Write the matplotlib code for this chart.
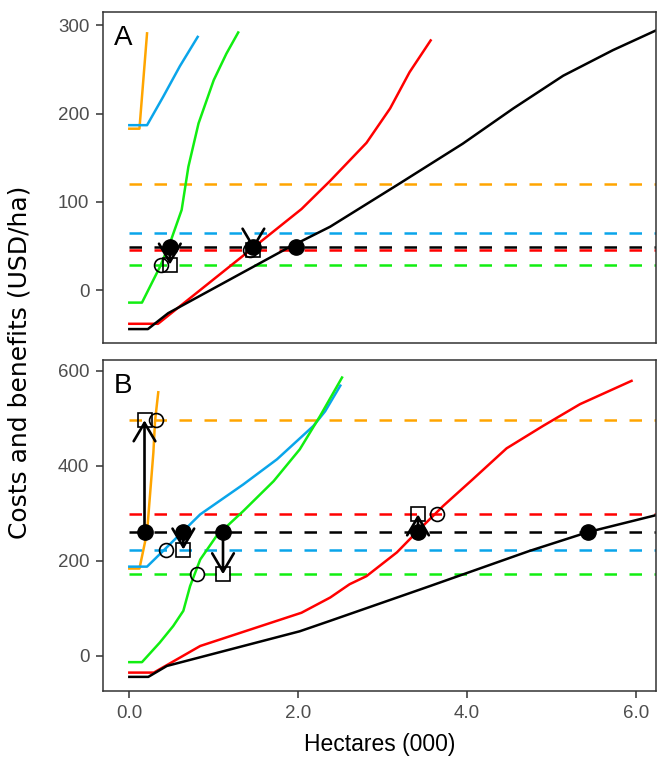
import numpy as np
import matplotlib.pyplot as plt

plt.rcParams['font.family'] = ['Liberation Sans', 'DejaVu Sans']

# colours of the four land classes + total
cols = {'orange': '#FFA500', 'blue': '#0AA5EA', 'green': '#11EE11', 'red': '#FF0000', 'black': '#000000'}

# ---- Panel A: cost curves (x in 000 ha, y in USD/ha)
a_orange_x = [0, 0.12, 0.21]
a_orange_y = [183, 183, 291]
a_blue_x = [0, 0.21, 0.40, 0.60, 0.81]
a_blue_y = [187, 187, 219, 254, 287]
a_green_x = [0, 0.15, 0.36, 0.48, 0.62, 0.70, 0.82, 1.0, 1.15, 1.29]
a_green_y = [-14, -14, 26, 53, 91, 140, 189, 238, 268, 292]
a_red_x = [0, 0.34, 2.04, 2.38, 2.81, 3.09, 3.32, 3.57]
a_red_y = [-38, -38, 92, 124, 167, 206, 247, 283]
a_black_x = [0, 0.22, 0.46, 1.86, 2.38, 3.17, 3.95, 4.55, 5.14, 5.73, 6.3]
a_black_y = [-44, -44, -26, 47, 72, 119, 166, 206, 243, 272, 297]

# benefit levels (dashed)
a_levels = {'orange': 120, 'blue': 65, 'red': 46, 'black': 48.5, 'green': 29}

# points
a_fill_x = [0.48, 1.47, 1.98]
a_fill_y = [48.5, 48.5, 48.5]
a_sq_x = [0.48, 1.47]
a_sq_y = [29, 46]
a_open_x = [0.37, 1.43]
a_open_y = [29, 46]

# ---- Panel B
b_orange_x = [0, 0.12, 0.21, 0.285, 0.305, 0.343]
b_orange_y = [184, 184, 260, 428, 495, 555]
b_blue_x = [0, 0.21, 0.44, 0.84, 1.35, 1.75, 2.18, 2.32, 2.50]
b_blue_y = [188, 188, 228, 298, 361, 414, 484, 515, 569]
b_green_x = [0, 0.15, 0.36, 0.52, 0.64, 0.72, 0.84, 1.035, 1.35, 1.71, 2.02, 2.26, 2.52]
b_green_y = [-13, -13, 28, 63, 95, 147, 203, 253, 305, 368, 435, 505, 586]
b_red_x = [0, 0.29, 0.84, 2.04, 2.38, 2.61, 2.81, 3.17, 3.44, 3.72, 4.07, 4.47, 4.90, 5.34, 5.95]
b_red_y = [-35, -35, 21, 91, 123, 151, 168, 218, 267, 316, 372, 437, 484, 530, 579]
b_black_x = [0, 0.225, 0.445, 2.02, 2.38, 3.56, 4.74, 5.44, 6.3]
b_black_y = [-44, -44, -21, 52, 74, 147, 221, 261, 299]

b_levels = {'orange': 496, 'red': 298, 'black': 261, 'blue': 224, 'green': 172}

b_fill_x = [0.18, 0.64, 1.11, 3.42, 5.44]
b_fill_y = [261, 261, 261, 261, 261]
b_sq_x = [0.18, 0.64, 1.11, 3.42]
b_sq_y = [496, 224, 172, 298]
b_open_x = [0.32, 0.43, 0.80, 3.64]
b_open_y = [496, 224, 172, 298]

fig = plt.figure(figsize=(6.57, 7.61), dpi=100)
axA = fig.add_axes([0.157, 0.549, 0.8415, 0.435])
axB = fig.add_axes([0.157, 0.092, 0.8415, 0.435])


def draw(ax, curves, levels, fx, fy, sx, sy, ox, oy):
    for c, y in levels.items():
        ax.hlines(y, 0, 7, colors=cols[c], lw=1.8, linestyles=(0, (5, 5)))
    for c, (x, y) in curves.items():
        ax.plot(x, y, color=cols[c], lw=1.8)
    ax.plot(ox, oy, 'o', ms=10, mfc='none', mec='black', mew=1.2, ls='none')
    ax.plot(sx, sy, 's', ms=9.5, mfc='none', mec='black', mew=1.2, ls='none')
    ax.plot(fx, fy, 'o', ms=11, color='black', ls='none')
    for x0, y0, y1 in zip(sx, fy, sy):
        ax.annotate('', xy=(x0, y1), xytext=(x0, y0),
                    arrowprops=dict(arrowstyle='->,head_length=1.1,head_width=0.65',
                                    lw=1.9, color='black', shrinkA=0, shrinkB=0,
                                    mutation_scale=12))
    ax.set_xlim(-0.31, 6.24)
    for s in ax.spines.values():
        s.set_color('#333333')
        s.set_linewidth(1.1)
    ax.tick_params(colors='#333333', labelcolor='#4D4D4D', labelsize=13.5,
                   length=5, width=1.1, pad=5)


draw(axA, {'orange': (a_orange_x, a_orange_y), 'blue': (a_blue_x, a_blue_y),
           'green': (a_green_x, a_green_y), 'red': (a_red_x, a_red_y),
           'black': (a_black_x, a_black_y)},
     a_levels, a_fill_x, a_fill_y, a_sq_x, a_sq_y, a_open_x, a_open_y)
draw(axB, {'orange': (b_orange_x, b_orange_y), 'blue': (b_blue_x, b_blue_y),
           'green': (b_green_x, b_green_y), 'red': (b_red_x, b_red_y),
           'black': (b_black_x, b_black_y)},
     b_levels, b_fill_x, b_fill_y, b_sq_x, b_sq_y, b_open_x, b_open_y)

axA.set_ylim(-60, 315)
axA.set_yticks([0, 100, 200, 300])
axA.set_xticks([0, 2, 4, 6])
axA.tick_params(axis='x', bottom=False, labelbottom=False)
axB.set_ylim(-73.7, 623)
axB.set_yticks([0, 200, 400, 600])
axB.set_xticks([0, 2, 4, 6])
axB.set_xticklabels(['0.0', '2.0', '4.0', '6.0'])

axA.text(0.02, 0.96, 'A', transform=axA.transAxes, fontsize=20, va='top', ha='left')
axB.text(0.02, 0.96, 'B', transform=axB.transAxes, fontsize=20, va='top', ha='left')

axB.set_xlabel('Hectares (000)', fontsize=16.5, labelpad=8)
fig.text(0.030, 0.524, 'Costs and benefits (USD/ha)', rotation=90, fontsize=18,
         family=['DejaVu Sans'], ha='center', va='center')

fig.savefig('out.png', dpi=100)
